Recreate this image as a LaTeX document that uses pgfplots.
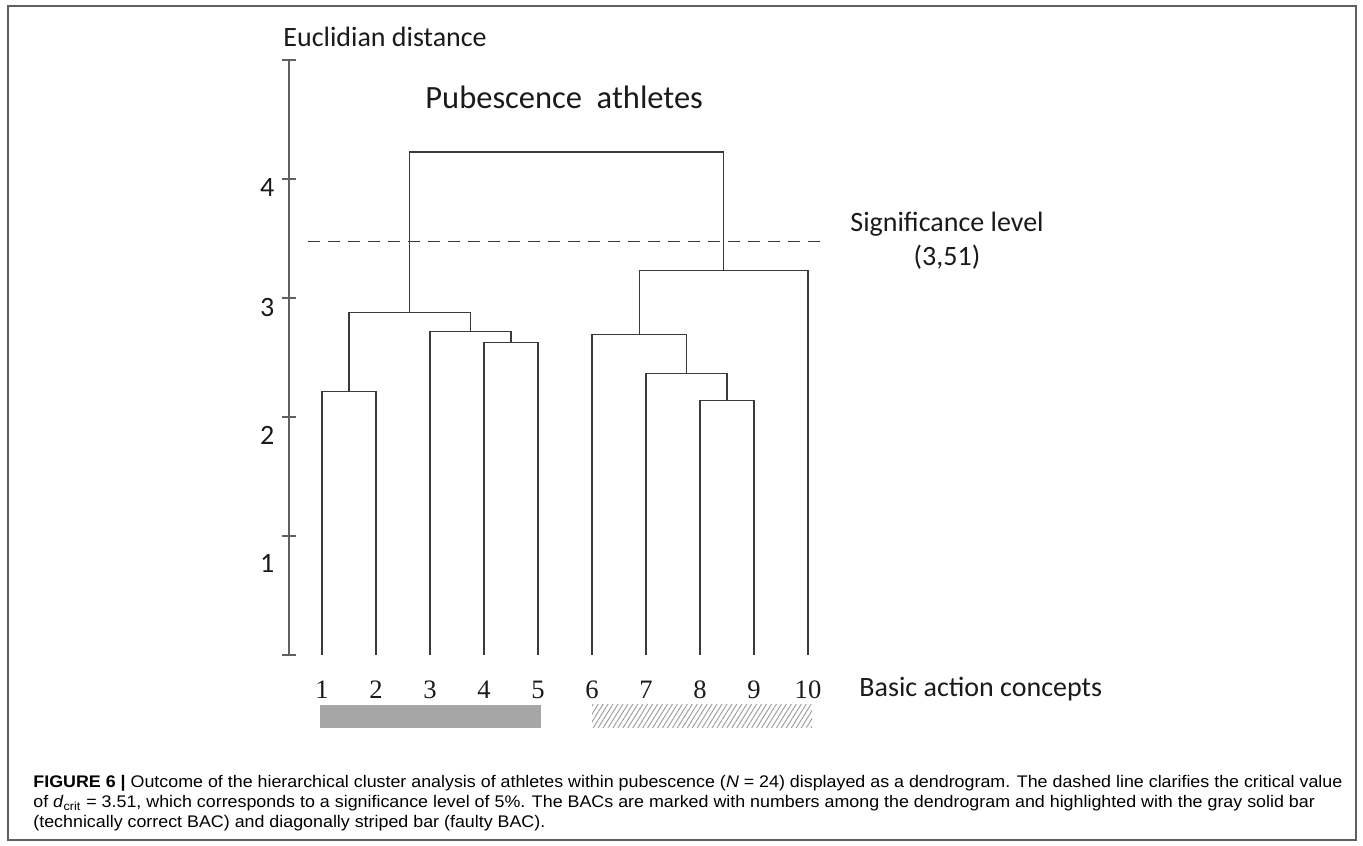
\documentclass[border=0pt]{standalone}
\usepackage{fontspec}
\usepackage{graphicx}
\usepackage{pgfplots}
\pgfplotsset{compat=1.18}
\usetikzlibrary{patterns.meta}
\newfontfamily\calfont{Carlito}
\newfontfamily\serfont{Liberation Serif}
\newfontfamily\capfont{Liberation Sans}
\newsavebox\capboxA
\newsavebox\capboxB
\newsavebox\capboxC
\definecolor{lncol}{HTML}{3A3A3A}
\definecolor{axcol}{HTML}{606060}
\definecolor{barcol}{HTML}{A6A6A6}
\definecolor{txtcol}{HTML}{1A1A1A}
\begin{document}
\sbox\capboxA{\fontsize{8.4pt}{10pt}\capfont\textbf{FIGURE 6 |} Outcome of the hierarchical cluster analysis of athletes within pubescence (\textit{N} = 24) displayed as a dendrogram. The dashed line clarifies the critical value}%
\sbox\capboxB{\fontsize{8.4pt}{10pt}\capfont of \textit{d}\textsubscript{crit} = 3.51, which corresponds to a significance level of 5\%. The BACs are marked with numbers among the dendrogram and highlighted with the gray solid bar}%
\sbox\capboxC{\fontsize{8.4pt}{10pt}\capfont (technically correct BAC) and diagonally striped bar (faulty BAC).}%
\pgfmathsetmacro\capscale{654.5pt/\the\wd\capboxA}%
\begin{tikzpicture}[x=1pt,y=1pt]
\path[use as bounding box] (0,0) rectangle (681.5,422.5);
\draw[line width=0.75pt, axcol] (4,2.5) rectangle (678,419.5);
\begin{axis}[
  at={(144.5pt,95pt)}, anchor=south west,
  scale only axis, width=259.5pt, height=297.5pt,
  xmin=0.389, xmax=10, ymin=0, ymax=5,
  axis x line*=bottom, axis y line*=left,
  x axis line style={draw=none},
  major x tick style={draw=none},
  xtick={1,2,3,4,5,6,7,8,9,10},
  xticklabels={1,2,3,4,5,6,7,8,9,10},
  xticklabel style={font=\fontsize{13.3pt}{15pt}\serfont, text=txtcol, anchor=base, inner sep=0pt, yshift=-18.5pt},
  ytick={0,1,2,3,4,5},
  yticklabels={{},{\raisebox{-18.1pt}[0pt][0pt]{1}},{\raisebox{-13.7pt}[0pt][0pt]{2}},{\raisebox{-9.3pt}[0pt][0pt]{3}},{\raisebox{-8.9pt}[0pt][0pt]{4}},{}},
  yticklabel style={font=\fontsize{14pt}{16pt}\calfont, text=txtcol, anchor=base east, inner sep=0pt, xshift=-3.7pt},
  tick align=center, major tick length=7pt,
  y axis line style={line width=0.75pt, axcol},
  major y tick style={line width=0.75pt, axcol},
  clip=false,
]
% dendrogram links
\addplot[lncol, line width=0.65pt] coordinates {(1,0) (1,2.215) (2,2.215) (2,0)};
\addplot[lncol, line width=0.65pt] coordinates {(4,0) (4,2.626) (5,2.626) (5,0)};
\addplot[lncol, line width=0.65pt] coordinates {(3,0) (3,2.718) (4.5,2.718) (4.5,2.626)};
\addplot[lncol, line width=0.65pt] coordinates {(1.5,2.215) (1.5,2.878) (3.75,2.878) (3.75,2.718)};
\addplot[lncol, line width=0.65pt] coordinates {(8,0) (8,2.139) (9,2.139) (9,0)};
\addplot[lncol, line width=0.65pt] coordinates {(7,0) (7,2.366) (8.5,2.366) (8.5,2.139)};
\addplot[lncol, line width=0.65pt] coordinates {(6,0) (6,2.693) (7.75,2.693) (7.75,2.366)};
\addplot[lncol, line width=0.65pt] coordinates {(6.875,2.693) (6.875,3.230) (10,3.230) (10,0)};
\addplot[lncol, line width=0.65pt] coordinates {(2.625,2.878) (2.625,4.228) (8.4375,4.228) (8.4375,3.230)};
\addplot[lncol, line width=1.1pt] coordinates {(6,0) (6,2.693)};
\addplot[lncol, line width=1.0pt] coordinates {(8.5,2.139) (8.5,2.366)};
% significance level
\addplot[lncol, line width=0.65pt, dash pattern=on 6pt off 4pt] coordinates {(0.742,3.473) (10.225,3.473)};
% cluster bars
\addplot[draw=none, fill=barcol] coordinates {(0.963,-0.419) (5.056,-0.419) (5.056,-0.612) (0.963,-0.612)};
\addplot[draw=none, pattern={Lines[angle=58,distance=2.1pt,line width=0.45pt]}, pattern color=black!40] coordinates {(6.0,-0.419) (10.074,-0.419) (10.074,-0.612) (6.0,-0.612)};
\end{axis}
% texts
\node[anchor=base west, inner sep=0pt, font=\fontsize{14pt}{16pt}\calfont, text=txtcol] at (141.5,399) {Euclidian distance};
\node[anchor=base west, inner sep=0pt, font=\fontsize{16.25pt}{18pt}\calfont, text=txtcol] at (212.5,368) {Pubescence\hspace{0.45em}athletes};
\node[anchor=base, inner sep=0pt, font=\fontsize{14pt}{16pt}\calfont, text=txtcol] at (473.5,306.5) {Significance level};
\node[anchor=base, inner sep=0pt, font=\fontsize{14pt}{16pt}\calfont, text=txtcol] at (473.5,289.5) {(3,51)};
\node[anchor=base west, inner sep=0pt, font=\fontsize{14pt}{16pt}\calfont, text=txtcol] at (429.5,74) {Basic action concepts};
% caption
\node[anchor=base west, inner sep=0pt, text=txtcol] at (16.5,29) {\scalebox{\capscale}[1]{\usebox\capboxA}};
\node[anchor=base west, inner sep=0pt, text=txtcol] at (16.5,19) {\scalebox{\capscale}[1]{\usebox\capboxB}};
\node[anchor=base west, inner sep=0pt, text=txtcol] at (16.5,9) {\scalebox{\capscale}[1]{\usebox\capboxC}};
\end{tikzpicture}
\end{document}
